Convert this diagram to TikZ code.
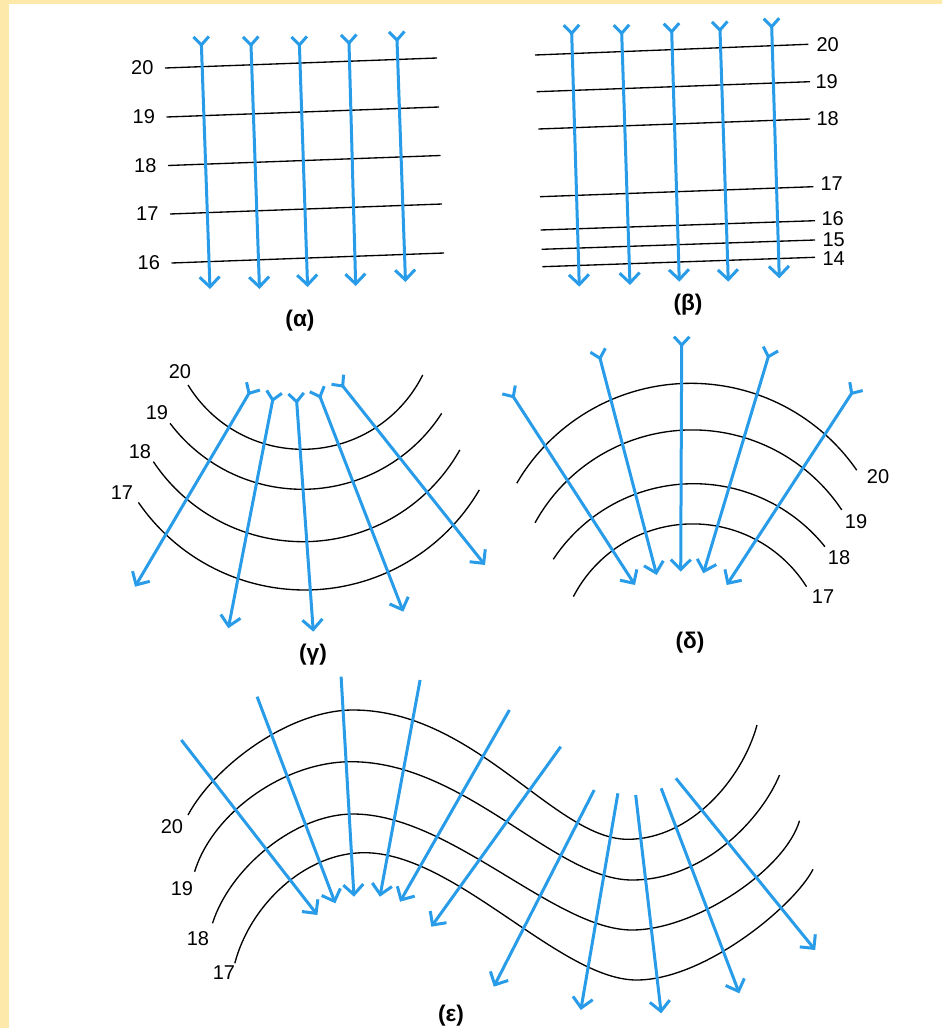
\documentclass[tikz,border=0pt]{standalone}
\usepackage{fontspec}
\setmainfont{Liberation Sans}
\usetikzlibrary{arrows.meta,calc}
\definecolor{raycol}{RGB}{40,156,232}
\definecolor{framecol}{RGB}{253,234,170}
\tikzset{
  front/.style={line width=1pt,black},
  ray/.style={line width=2.25pt,raycol,-{Straight Barb[length=7.5pt,width=15pt]}},
  num/.style={font=\fontsize{15}{17}\selectfont,inner sep=1pt},
  caplabel/.style={font=\fontsize{17}{19}\selectfont\bfseries,inner sep=1pt}
}
% ray with a forked tail
\newcommand\forkray[2]{%
  \draw[ray] #1 -- #2;
  \draw[ray,-,line join=round] ($#1!8.5pt!137:#2$) -- #1 -- ($#1!8.5pt!-137:#2$);}
\begin{document}
\begin{tikzpicture}[x=0.75pt,y=-0.75pt]
  \fill[white] (0,0) rectangle (942,1028);
  \fill[framecol] (0,0) rectangle (942,4);
  \fill[framecol] (0,0) rectangle (9,1028);
  \useasboundingbox (0,0) rectangle (942,1028);

  % (alpha) plane fronts, equal spacing
  \foreach \xa/\ya/\xb/\yb/\lab in {165/68/437/58/20,166.5/117/439/107/19,
      168/165.5/440.5/155.5/18,170/214/442/204/17,171.5/263/444/253/16}{
    \draw[front] (\xa,\ya) -- (\xb,\yb);
    \node[num,anchor=east] (a\lab) at (\xa-10,\ya) {\lab};
  }
  \foreach \xa/\ya/\xb/\yb in {201.4/45/210/289,251/45/259.5/289,299.4/45/307.6/287,
      349/43/355.7/286,397/40/405.5/282}{
    \forkray{(\xa,\ya)}{(\xb,\yb)}
  }
  \node[caplabel] (capa) at (300,321) {(α)};

  % (beta) plane fronts, uneven spacing
  \foreach \xa/\ya/\xb/\yb/\lx/\ly/\lab in {535/55/808.3/44.3/815/45/20,
      536.7/91.7/810/81.7/814/81.7/19,538.3/129/810/119/815/119/18,
      540/196.7/813.3/186.7/819/184/17,540.7/230/815/220.7/820/218.3/16,
      541.7/249.3/815/240/821/240/15,542.3/266.7/815/257.3/821/258.3/14}{
    \draw[front] (\xa,\ya) -- (\xb,\yb);
    \node[num,anchor=west] (b\lab) at (\lx,\ly) {\lab};
  }
  \foreach \xa/\ya/\xb/\yb in {571.7/33.3/579.3/286.7,621.7/33.3/630/285,
      671.7/31.7/679.3/281.7,720/30/728.3/281.7,771.7/26.7/779.3/278.3}{
    \forkray{(\xa,\ya)}{(\xb,\yb)}
  }
  \node[caplabel] (capb) at (688,305) {(β)};

  % (gamma) diverging rays
  \foreach \cx/\cy/\r/\aa/\ab in {302.6/315.1/134.2/26.5/148.6,302.4/323.6/165.7/32.8/143,
      303/361.8/179.9/29.3/146.3,304.9/388/202/30.3/145.5}{
    \draw[front,domain=\aa:\ab,samples=60,smooth,variable=\t]
      plot ({\cx+\r*cos(\t)},{\cy+\r*sin(\t)});
  }
  \node[num] (g20) at (180,372) {20};
  \node[num] (g19) at (157,413) {19};
  \node[num] (g18) at (140,452) {18};
  \node[num] (g17) at (122,493) {17};
  \foreach \xa/\ya/\xb/\yb in {249/393.3/135/586.7,272.7/400/228.3/628.3,
      296.7/401.7/313.3/631.7,320/396.7/403.3/611.7,342.7/386/485/565}{
    \forkray{(\xa,\ya)}{(\xb,\yb)}
  }
  \node[caplabel] (capg) at (313,655) {(γ)};

  % (delta) converging rays
  \foreach \cx/\cy/\r/\aa/\ab in {690.9/585/201.7/210.3/325.3,692.3/609.5/179.6/208.9/326.3,
      693.7/651.9/168.2/213.4/321.3,692.8/658.3/134.4/207.3/327.8}{
    \draw[front,domain=\aa:\ab,samples=60,smooth,variable=\t]
      plot ({\cx+\r*cos(\t)},{\cy+\r*sin(\t)});
  }
  \node[num] (d20) at (878,477) {20};
  \node[num] (d19) at (856,522) {19};
  \node[num] (d18) at (839,558) {18};
  \node[num] (d17) at (823,597) {17};
  \foreach \xa/\ya/\xb/\yb in {513.3/396.7/635/585,600/358.3/656.7/575,
      681.7/345/680.7/571.7,768.3/356.7/703.3/573.3,851.7/393.3/726.7/585}{
    \forkray{(\xa,\ya)}{(\xb,\yb)}
  }
  \node[caplabel] (capd) at (690,643) {(δ)};

  % (epsilon) wavy fronts
  \draw[front] (188,815) .. controls (215,765) and (290,710) .. (353,710)
    .. controls (475,710) and (555,839.3) .. (627.7,839.3)
    .. controls (690,839.3) and (742,780) .. (757,725);
  \draw[front] (194.6,871.7) .. controls (213,812) and (285,761.7) .. (351,761.7)
    .. controls (465,761.7) and (555,880) .. (632,880)
    .. controls (705,880) and (762,818) .. (779.5,775);
  \draw[front] (212.5,923.3) .. controls (230,868) and (295,814) .. (353,814)
    .. controls (450,814) and (555,930) .. (632,930)
    .. controls (695,930) and (785,870) .. (799.5,820.7);
  \draw[front] (234.8,963.3) .. controls (250,905) and (305,852.7) .. (364.3,852.7)
    .. controls (455,852.7) and (560,980) .. (636.6,980)
    .. controls (705,980) and (795,905) .. (813,869.3);
  \node[num] (e20) at (172,827) {20};
  \node[num] (e19) at (182,889) {19};
  \node[num] (e18) at (198,939) {18};
  \node[num] (e17) at (224,973) {17};
  \foreach \xa/\ya/\xb/\yb in {181.3/740/317.4/915,257.1/696.7/335.3/903.3,
      341.1/676.7/354/896.7,420.1/680/379.9/896.7,509.4/710/400/901.7,
      560.7/746.7/431.3/926.7,594.2/790/493.8/986.7,617.9/793.3/580.8/1010,
      635.7/795/661.2/1013.3,661.2/788.3/739.3/993.3,675.9/778.3/815.2/950}{
    \draw[ray] (\xa,\ya) -- (\xb,\yb);
  }
  \node[caplabel] (cape) at (451,1016) {(ε)};
\end{tikzpicture}
\end{document}
